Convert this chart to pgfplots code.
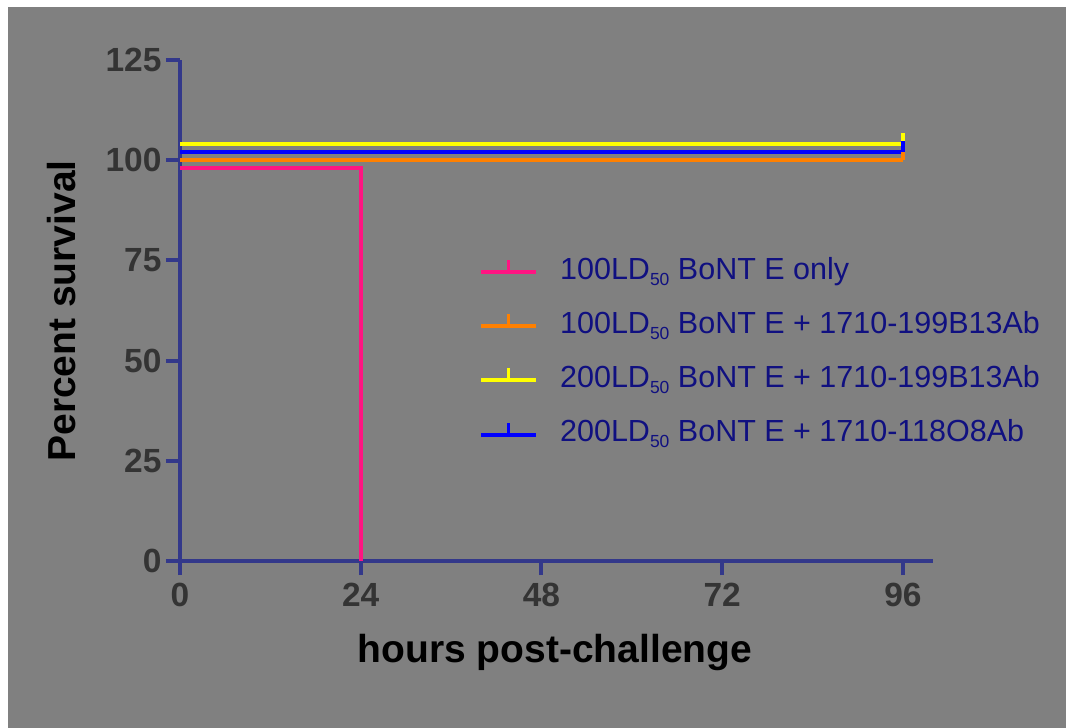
\documentclass[border=0pt]{standalone}
\usepackage{fontspec}
\setmainfont{Liberation Sans}
\usepackage{pgfplots}
\pgfplotsset{compat=1.18}
\definecolor{bggray}{RGB}{128,128,128}
\definecolor{axisnavy}{RGB}{51,56,138}
\definecolor{legnavy}{RGB}{16,16,128}
\definecolor{ticktext}{RGB}{52,52,52}
\definecolor{spink}{RGB}{255,20,130}
\definecolor{sorange}{RGB}{255,128,0}
\definecolor{syellow}{RGB}{255,255,0}
\definecolor{sblue}{RGB}{0,0,255}
\newcommand\sub[1]{\raisebox{-6pt}{\fontsize{17.5}{17.5}\selectfont #1}}
\begin{document}
\begin{tikzpicture}[x=1pt,y=1pt]
\useasboundingbox (0,0) rectangle (1066,728);
\fill[white] (0,0) rectangle (1066,728);
\fill[bggray] (8,0) rectangle (1066,721);
\begin{axis}[
  at={(180pt,167pt)}, anchor=origin,
  scale only axis, width=753pt, height=501pt,
  xmin=0, xmax=100, ymin=0, ymax=125,
  axis x line=bottom, axis y line=left,
  axis line style={-, line width=4pt, color=axisnavy},
  xtick={0,24,48,72,96}, ytick={0,25,50,75,100,125},
  tick align=outside, major tick length=14pt,
  tick style={line width=4pt, color=axisnavy},
  /pgf/number format/assume math mode=true,
  tick label style={font=\fontsize{33.5}{36}\selectfont\bfseries, text=ticktext},
  xticklabel style={yshift=-5pt},
  yticklabel style={xshift=-1pt},
  xlabel={hours post-challenge},
  ylabel={Percent survival},
  label style={font=\fontsize{39}{42}\selectfont\bfseries, text=black},
  xlabel style={at={(axis description cs:0.498,-0.182)}, anchor=center},
  ylabel style={at={(axis description cs:-0.157,0.499)}, anchor=center, rotate=0},
  legend style={at={(axis description cs:0.393,0.611)}, anchor=north west,
    draw=none, fill=none, font=\fontsize{30.5}{33}\selectfont, text=legnavy,
    row sep=24.2pt,
    /tikz/every odd column/.append style={column sep=20pt},
    nodes={text height=22pt, text depth=8pt, inner ysep=0pt}},
  legend cell align=left,
  legend image code/.code={
    \draw[#1, line width=4pt] (0pt,0pt) -- (55pt,0pt);
    \draw[#1, line width=3pt] (27.5pt,0pt) -- (27.5pt,12pt);
  },
  clip=false,
]
\addplot[spink, line width=4pt] coordinates {(0,98) (24,98) (24,0)};
\addlegendentry{100LD\sub{50} BoNT E only}
\addplot[sorange, line width=4pt] coordinates {(0,100) (96,100)};
\addlegendentry{100LD\sub{50} BoNT E + 1710-199B13Ab}
\addplot[syellow, line width=4pt] coordinates {(0,104) (96,104)};
\addlegendentry{200LD\sub{50} BoNT E + 1710-199B13Ab}
\addplot[sblue, line width=4pt] coordinates {(0,102) (96,102)};
\addlegendentry{200LD\sub{50} BoNT E + 1710-118O8Ab}
\addplot[sorange, line width=4pt, forget plot] coordinates {(96,100) (96,102.7)};
\addplot[syellow, line width=4pt, forget plot] coordinates {(96,104) (96,106.8)};
\addplot[sblue, line width=4pt, forget plot] coordinates {(96,102) (96,104.7)};
\end{axis}
\end{tikzpicture}
\end{document}
